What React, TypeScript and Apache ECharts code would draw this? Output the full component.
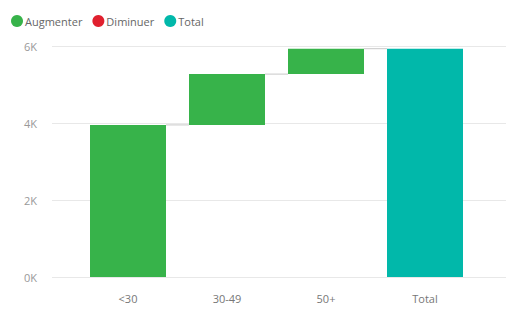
import React, { useEffect, useRef } from "react";
import * as echarts from "echarts";

const categories = ["<30", "30-49", "50+", "Total"];
const increases = [3950, 1320, 660];
const yTicks = [0, 2000, 4000, 6000];
const legendNames = ["Augmenter", "Diminuer", "Total"];

const GREEN = "#37B34A";
const RED = "#E0202E";
const TEAL = "#01B8AA";

export default function App() {
  const ref = useRef<HTMLDivElement>(null);
  useEffect(() => {
    if (!ref.current) return;
    const chart = echarts.init(ref.current, undefined, { renderer: "svg" });
    const base: (number | string)[] = [];
    const inc: (number | string)[] = [];
    const levels: number[][] = [];
    let cum = 0;
    increases.forEach((v, i) => {
      base.push(cum);
      inc.push(v);
      cum += v;
      levels.push([i, cum]);
    });
    base.push("-");
    inc.push("-");
    const total: (number | string)[] = categories.map((_, i) =>
      i === categories.length - 1 ? cum : "-"
    );
    const font = "'Open Sans', 'Noto Sans', sans-serif";
    const yMax = yTicks[yTicks.length - 1];
    const yStep = yTicks[1] - yTicks[0];
    chart.setOption({
      animation: false,
      textStyle: { fontFamily: font },
      legend: {
        data: legendNames,
        left: 6,
        top: 10,
        icon: "circle",
        itemWidth: 12,
        itemHeight: 12,
        itemGap: 10,
        textStyle: { color: "#666", fontSize: 11, fontFamily: font, padding: [0, 0, 0, -3] },
      },
      grid: [
        { left: 52, right: 7, top: 46, bottom: 40 },
        { left: 78.5, right: 38.5, top: 46, bottom: 40 },
      ],
      xAxis: [
        { type: "category", gridIndex: 0, data: categories, show: false },
        {
          type: "category",
          gridIndex: 1,
          data: categories,
          axisLine: { show: false },
          axisTick: { show: false },
          axisLabel: { color: "#777", fontSize: 11, margin: 16, fontFamily: font },
        },
      ],
      yAxis: [
        {
          type: "value",
          gridIndex: 0,
          min: 0,
          max: yMax,
          interval: yStep,
          axisLine: { show: false },
          axisTick: { show: false },
          axisLabel: {
            color: "#999",
            fontSize: 11,
            margin: 15,
            fontFamily: font,
            formatter: (v: number) => v / 1000 + "K",
          },
          splitLine: { lineStyle: { color: "#e8e8e8", width: 1 } },
        },
        { type: "value", gridIndex: 1, min: 0, max: yMax, interval: yStep, show: false },
      ],
      series: [
        {
          name: "base",
          type: "bar",
          xAxisIndex: 1,
          yAxisIndex: 1,
          stack: "w",
          data: base,
          barWidth: 76,
          itemStyle: { color: "rgba(0,0,0,0)" },
          silent: true,
        },
        {
          name: "Augmenter",
          type: "bar",
          xAxisIndex: 1,
          yAxisIndex: 1,
          stack: "w",
          data: inc,
          barWidth: 76,
          itemStyle: { color: GREEN },
        },
        {
          name: "Diminuer",
          type: "bar",
          xAxisIndex: 1,
          yAxisIndex: 1,
          stack: "w",
          data: [],
          barWidth: 76,
          itemStyle: { color: RED },
        },
        {
          name: "Total",
          type: "bar",
          xAxisIndex: 1,
          yAxisIndex: 1,
          stack: "w",
          data: total,
          barWidth: 76,
          itemStyle: { color: TEAL },
        },
        {
          name: "connectors",
          type: "custom",
          xAxisIndex: 1,
          yAxisIndex: 1,
          data: levels,
          silent: true,
          renderItem: (params: any, api: any) => {
            const p = api.coord([api.value(0), api.value(1)]);
            const w = api.size([1, 0])[0];
            const half = 38;
            return {
              type: "line",
              shape: { x1: p[0] + half, y1: p[1], x2: p[0] + w - half, y2: p[1] },
              style: { stroke: "#c8c8c8", lineWidth: 1 },
            };
          },
        },
      ],
    });
    return () => chart.dispose();
  }, []);
  return (
    <div
      ref={ref}
      style={{ position: "fixed", left: 0, top: 0, width: 513, height: 317, background: "#fff" }}
    />
  );
}
